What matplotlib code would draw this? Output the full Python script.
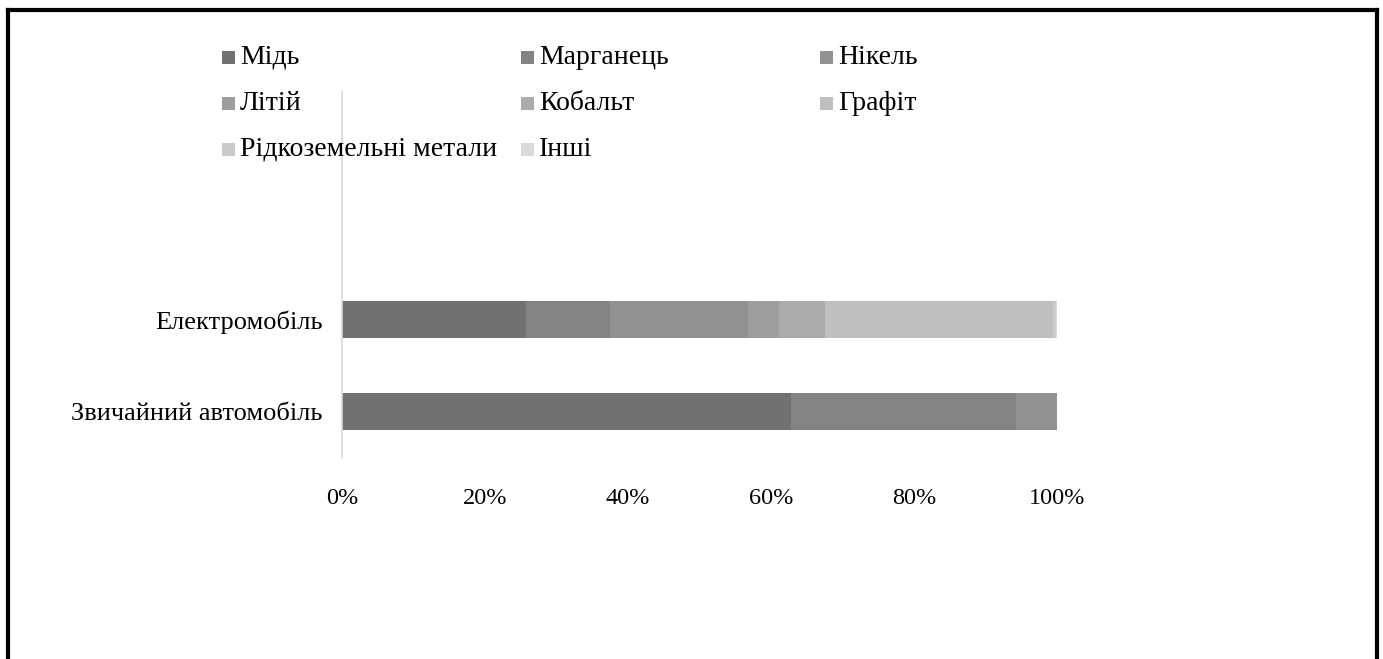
import matplotlib
matplotlib.use('Agg')
import matplotlib.pyplot as plt
from matplotlib.patches import Rectangle
from matplotlib.lines import Line2D
import numpy as np

plt.rcParams['font.family'] = ['Liberation Serif', 'DejaVu Serif']

# categories (bottom to top) and metal shares, %
cars = ['Звичайний автомобіль', 'Електромобіль']
metals = ['Мідь', 'Марганець', 'Нікель', 'Літій', 'Кобальт', 'Графіт',
          'Рідкоземельні метали', 'Інші']
conventional = [62.8, 31.5, 5.7, 0, 0, 0, 0, 0]
electric = [25.7, 11.8, 19.3, 4.3, 6.4, 32.0, 0.3, 0.2]
xticks = [0, 20, 40, 60, 80, 100]
xtick_labels = ['0%', '20%', '40%', '60%', '80%', '100%']

colors = ['#717171', '#838383', '#919191', '#9e9e9e', '#ababab', '#bfbfbf',
          '#cacaca', '#dadada']

W, H = 1383, 659
fig = plt.figure(figsize=(W / 100, H / 100), dpi=100)
ax = fig.add_axes([342 / W, 1 - 457 / H, 715 / W, 365 / H])

shares = np.array([conventional, electric])
left = np.zeros(len(cars))
ypos = np.arange(len(cars))
for j, name in enumerate(metals):
    ax.barh(ypos, shares[:, j], left=left, height=0.4, color=colors[j],
            linewidth=0)
    left += shares[:, j]

ax.set_xlim(0, 100)
ax.set_ylim(-0.5, 3.49)
ax.set_yticks(ypos)
ax.set_yticklabels(cars, fontsize=19)
ax.set_xticks(xticks)
ax.set_xticklabels(xtick_labels, fontsize=17.5)
ax.tick_params(axis='x', length=0, pad=22)
ax.tick_params(axis='y', length=0, pad=14)
for s in ['top', 'right', 'bottom']:
    ax.spines[s].set_visible(False)
ax.spines['left'].set_color('#d9d9d9')
ax.spines['left'].set_linewidth(1.2)

# legend laid out in rows of three
for i, name in enumerate(metals):
    r, c = divmod(i, 3)
    x = (222 + c * 299) / W
    y = 1 - (57 + r * 46) / H
    fig.patches.append(Rectangle((x, y - 6.5 / H), 13 / W, 13 / H,
                                 transform=fig.transFigure,
                                 facecolor=colors[i], edgecolor='none'))
    fig.text(x + 18 / W, y, name, fontsize=20, va='center', ha='left')

# frame around the chart (open at the bottom)
bx0, bx1, by = 8 / W, 1376.5 / W, 1 - 9.5 / H
for xs, ys in [([bx0, bx0], [0, by]), ([bx0, bx1], [by, by]),
               ([bx1, bx1], [by, 0])]:
    fig.lines.append(Line2D(xs, ys, transform=fig.transFigure,
                            color='black', linewidth=3, solid_capstyle='projecting'))

fig.savefig('out.png', dpi=100, facecolor='white')
